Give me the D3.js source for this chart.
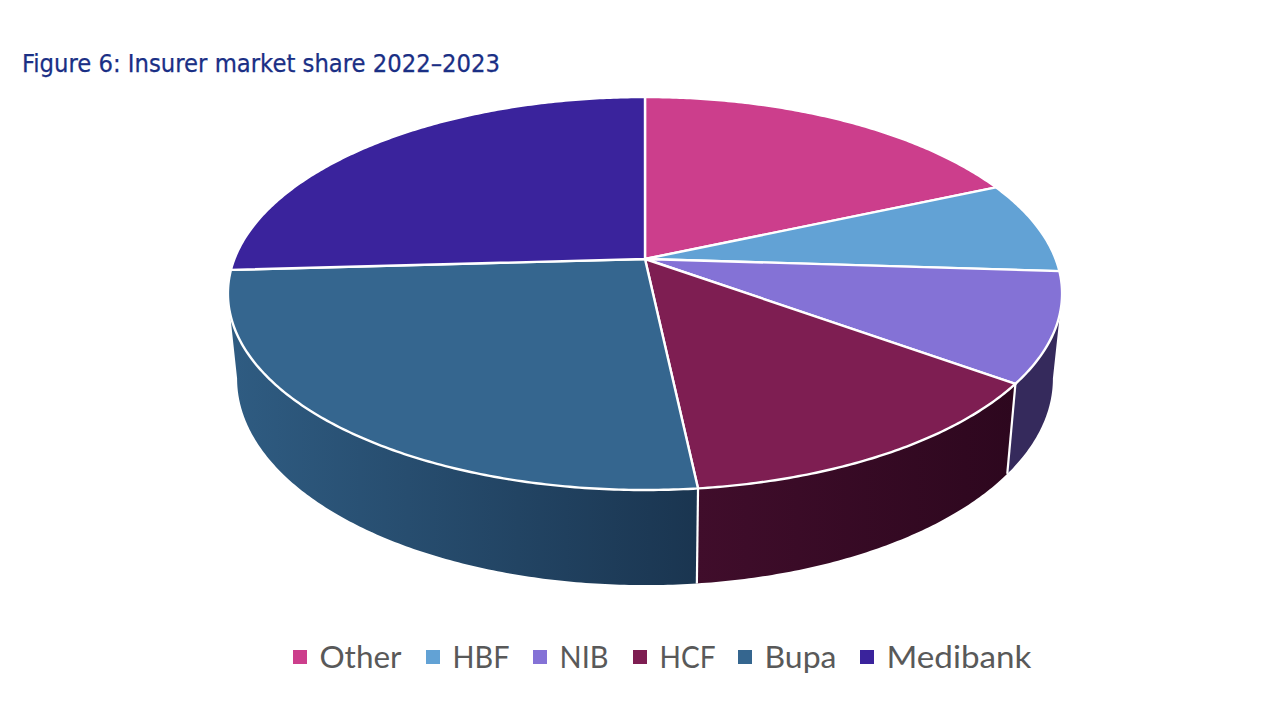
<!DOCTYPE html>
<html>
<head>
<meta charset="utf-8">
<script src="https://cdn.jsdelivr.net/npm/d3@7"></script>
<style>
html,body{margin:0;padding:0;background:#fff;}
svg{display:block;}
</style>
</head>
<body>
<svg id="chart" width="1280" height="720"></svg>
<script>
const titleText = "Figure 6: Insurer market share 2022–2023";
const categories = ["Other","HBF","NIB","HCF","Bupa","Medibank"];
const shares = [18.4,7.6,9.0,13.3,25.8,25.9];
const topColors = ["#cc3e8c","#62a2d5","#8472d6","#7e1e52","#35668f","#3a239c"];
const sideLeft = ["#6e2049","#33576f","#352a5c","#400d2b","#2f5c82","#1f1456"];
const sideRight = ["#6e2049","#33576f","#352a5c","#2d071e","#1a3550","#1f1456"];
const legendX = [293,426,533,633,738,860];
const legendWidths = [82,57,49,56,72,145];

const W = 1280, H = 720;
const svg = d3.select("#chart");
const defs = svg.append("defs");

// perspective view of the pie disc
const cx = 645, cy = 259, kx = 410.6, a = 144.96, c = -0.1756;
const shrink = 0.978, d0 = 82.8, d1 = 12.3;
const project = (t, bottom) => {
  const u = Math.sin(t), v = -Math.cos(t), w = 1 + c * v;
  let x = cx + kx * u / w, y = (a * v + cy) / w;
  if (bottom) { x = cx + (x - cx) * shrink; y = y + d0 + d1 * v; }
  return [x, y];
};
const arcAngles = (t0, t1) => {
  const n = Math.max(2, Math.ceil((t1 - t0) / 0.01));
  return d3.range(n + 1).map(i => t0 + (t1 - t0) * i / n);
};
const line = d3.line();
const pie = d3.pie().sort(null).value(d => d.share);
const rows = categories.map((name, i) => ({name, share: shares[i], i}));
const arcs = pie(rows);

// side wall, only the front-facing part of the rim
const tangent = Math.asin(-c);
const frontStart = Math.PI / 2 + tangent, frontEnd = 3 * Math.PI / 2 - tangent;
const sides = svg.append("g");
arcs.forEach(d => {
  const t0 = Math.max(d.startAngle, frontStart), t1 = Math.min(d.endAngle, frontEnd);
  if (t1 <= t0) return;
  const ts = arcAngles(t0, t1);
  const up = ts.map(t => project(t, false));
  const down = ts.map(t => project(t, true)).reverse();
  const xs = up.concat(down).map(p => p[0]);
  const id = "side" + d.data.i;
  const g = defs.append("linearGradient").attr("id", id).attr("gradientUnits", "userSpaceOnUse")
    .attr("x1", d3.min(xs)).attr("x2", d3.max(xs)).attr("y1", 0).attr("y2", 0);
  g.append("stop").attr("offset", 0).attr("stop-color", sideLeft[d.data.i]);
  g.append("stop").attr("offset", 1).attr("stop-color", sideRight[d.data.i]);
  sides.append("path").attr("d", line(up.concat(down)) + "Z").attr("fill", `url(#${id})`);
});
// vertical white seams between visible side panels
arcs.forEach(d => {
  if (d.endAngle > frontStart && d.endAngle < frontEnd) {
    sides.append("path").attr("d", line([project(d.endAngle, false), project(d.endAngle, true)]))
      .attr("stroke", "#fff").attr("stroke-width", 2.2).attr("fill", "none");
  }
});

// top face
const tops = svg.append("g");
arcs.forEach(d => {
  const rim = arcAngles(d.startAngle, d.endAngle).map(t => project(t, false));
  tops.append("path").attr("d", line([[cx, cy]].concat(rim)) + "Z")
    .attr("fill", topColors[d.data.i]).attr("stroke", "#fff").attr("stroke-width", 2.4)
    .attr("stroke-linejoin", "round");
});

// title
svg.append("text").attr("x", 22).attr("y", 72).text(titleText)
  .attr("font-family", "'DejaVu Sans Condensed','DejaVu Sans',sans-serif")
  .attr("font-size", 25.3).attr("fill", "#1a2f85")
  .attr("stroke", "#1a2f85").attr("stroke-width", 0.25);

// legend
const legend = svg.append("g");
categories.forEach((name, i) => {
  legend.append("rect").attr("x", legendX[i]).attr("y", 650).attr("width", 14).attr("height", 14).attr("fill", topColors[i]);
  legend.append("text").attr("x", legendX[i] + 26.5).attr("y", 668).text(name)
    .attr("font-family", "Lato,'Open Sans',sans-serif").attr("font-size", 31).attr("fill", "#595959")
    .attr("textLength", legendWidths[i]).attr("lengthAdjust", "spacingAndGlyphs");
});
</script>
</body>
</html>
